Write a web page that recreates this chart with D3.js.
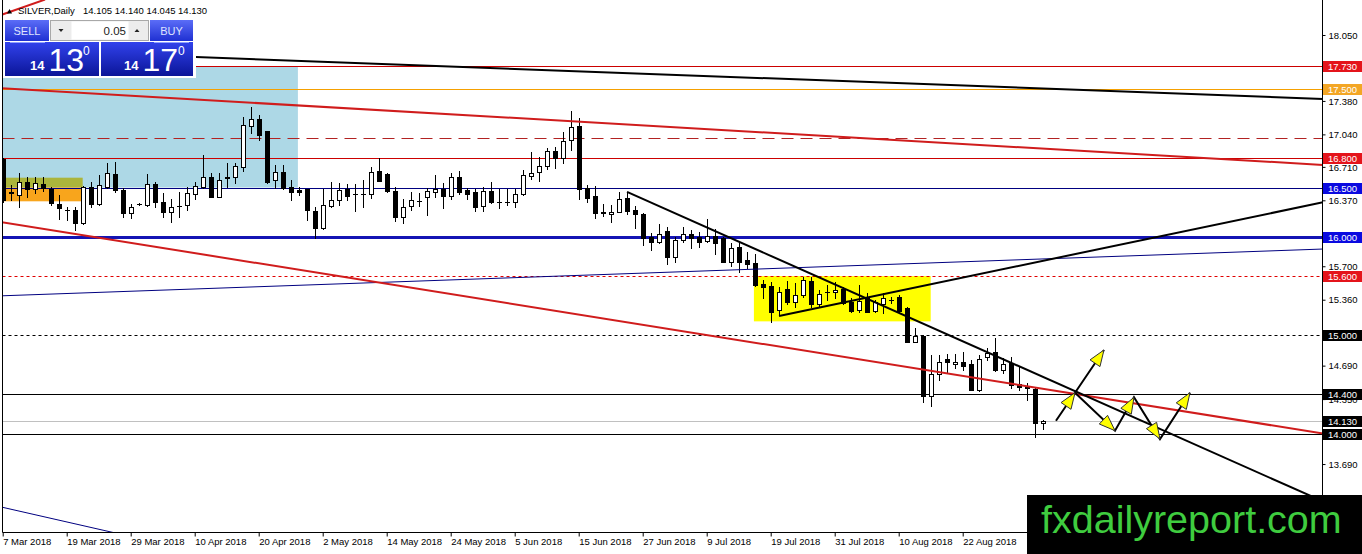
<!DOCTYPE html>
<html><head><meta charset="utf-8">
<script src="https://cdn.jsdelivr.net/npm/d3@7"></script>
<style>
html,body{margin:0;padding:0;background:#fff;overflow:hidden}
svg{display:block}
</style>
</head><body>
<svg id="chart" width="1362" height="554"></svg>
<script>
// ---------------- DATA ----------------
const quoteName = "SILVER,Daily";
const quoteOHLC = ["14.105", "14.140", "14.045", "14.130"];
const sellPrice = ["14", "13", "0"];
const buyPrice = ["14", "17", "0"];
const lotSize = "0.05";

const dateLabels = ["7 Mar 2018","19 Mar 2018","29 Mar 2018","10 Apr 2018","20 Apr 2018","2 May 2018","14 May 2018","24 May 2018","5 Jun 2018","15 Jun 2018","27 Jun 2018","9 Jul 2018","19 Jul 2018","31 Jul 2018","10 Aug 2018","22 Aug 2018"];
const dateBars = [0,8,16,24,32,40,48,56,64,72,80,88,96,104,112,120];

const opens = [16.79,16.45,16.42,16.56,16.49,16.54,16.49,16.33,16.27,16.27,16.14,16.51,16.33,16.51,16.64,16.47,16.24,16.33,16.32,16.54,
16.35,16.25,16.31,16.32,16.43,16.51,16.61,16.40,16.60,16.61,16.71,17.13,17.20,17.07,16.58,16.66,16.51,16.47,16.48,16.26,
16.09,16.31,16.37,16.48,16.43,16.43,16.43,16.67,16.64,16.46,16.20,16.31,16.36,16.40,16.45,16.49,16.41,16.61,16.47,16.45,
16.31,16.46,16.35,16.35,16.35,16.43,16.62,16.66,16.72,16.87,16.80,16.98,17.13,16.50,16.41,16.25,16.23,16.25,16.39,16.27,
16.23,16.00,15.95,16.06,15.79,15.97,16.03,16.00,15.96,16.01,15.99,15.74,15.90,15.76,15.73,15.52,15.50,15.26,15.47,15.34,
15.41,15.55,15.32,15.44,15.44,15.47,15.34,15.26,15.39,15.25,15.32,15.36,15.39,15.28,14.93,14.99,14.38,14.60,14.76,14.71,
14.73,14.71,14.44,14.78,14.83,14.65,14.72,14.50,14.47,14.45,14.105];
const highs = [16.80,16.53,16.65,16.61,16.61,16.61,16.51,16.42,16.30,16.30,16.52,16.56,16.63,16.75,16.76,16.50,16.33,16.34,16.64,16.56,
16.44,16.38,16.45,16.51,16.56,16.83,16.65,16.65,16.75,16.75,17.22,17.32,17.24,17.07,16.73,16.73,16.58,16.51,16.49,16.30,
16.49,16.56,16.55,16.54,16.54,16.58,16.71,16.80,16.65,16.51,16.38,16.45,16.44,16.50,16.63,16.55,16.65,16.67,16.50,16.48,
16.51,16.56,16.48,16.49,16.49,16.68,16.86,16.81,16.90,16.91,17.06,17.28,17.21,16.53,16.52,16.33,16.32,16.45,16.45,16.31,
16.24,16.04,16.13,16.10,16.00,16.10,16.07,16.05,16.18,16.08,16.00,15.94,15.94,15.84,15.82,15.56,15.54,15.49,15.55,15.53,
15.59,15.59,15.46,15.51,15.54,15.49,15.38,15.51,15.43,15.36,15.43,15.39,15.41,15.29,15.07,15.00,14.80,14.80,14.81,14.81,
14.83,14.75,14.80,14.87,14.97,14.77,14.78,14.68,14.51,14.46,14.14];
const lows = [16.35,16.37,16.30,16.40,16.44,16.46,16.32,16.18,16.17,16.07,16.13,16.30,16.32,16.50,16.45,16.20,16.19,16.32,16.31,16.30,
16.20,16.15,16.20,16.27,16.38,16.50,16.40,16.40,16.51,16.55,16.67,17.05,16.98,16.55,16.50,16.49,16.37,16.42,16.17,15.99,
16.08,16.30,16.32,16.37,16.26,16.30,16.39,16.57,16.45,16.16,16.14,16.27,16.31,16.22,16.40,16.29,16.38,16.43,16.38,16.26,
16.26,16.34,16.29,16.32,16.30,16.42,16.59,16.57,16.69,16.70,16.75,16.88,16.38,16.35,16.19,16.21,16.15,16.25,16.23,16.09,
15.92,15.87,15.94,15.72,15.74,15.95,15.89,15.90,15.95,15.82,15.74,15.70,15.64,15.68,15.50,15.38,15.13,15.20,15.32,15.29,
15.39,15.29,15.29,15.36,15.38,15.32,15.24,15.24,15.24,15.24,15.22,15.33,15.24,14.93,14.93,14.32,14.28,14.54,14.63,14.67,
14.65,14.44,14.43,14.75,14.64,14.62,14.46,14.44,14.34,13.96,14.045];
const closes = [16.37,16.44,16.56,16.49,16.55,16.50,16.34,16.29,16.27,16.14,16.51,16.33,16.53,16.65,16.47,16.24,16.30,16.33,16.54,16.35,
16.25,16.30,16.31,16.44,16.52,16.61,16.40,16.58,16.61,16.72,17.14,17.20,17.03,16.56,16.66,16.50,16.45,16.45,16.27,16.09,
16.32,16.37,16.47,16.41,16.43,16.43,16.66,16.57,16.46,16.20,16.30,16.37,16.36,16.46,16.49,16.41,16.61,16.45,16.43,16.30,
16.46,16.35,16.35,16.35,16.43,16.63,16.65,16.72,16.87,16.80,16.97,17.12,16.49,16.39,16.24,16.24,16.25,16.38,16.26,16.23,
15.99,15.95,16.03,15.79,15.97,16.03,15.99,15.95,16.01,15.94,15.74,15.89,15.74,15.72,15.51,15.49,15.24,15.44,15.34,15.41,
15.56,15.32,15.42,15.44,15.46,15.33,15.25,15.35,15.24,15.34,15.38,15.36,15.25,14.93,14.99,14.38,14.61,14.73,14.73,14.73,
14.69,14.44,14.76,14.82,14.65,14.71,14.49,14.47,14.46,14.11,14.13];

// visible price-axis ticks (the others sit under the coloured level tags)
const priceTicks = [18.05,17.38,17.04,16.71,16.37,15.70,15.36,14.69,14.35,13.69,13.35];

// horizontal price levels and the ones that get a coloured tag on the axis
const levelPrices = [17.73,17.50,17.00,16.80,16.50,16.00,15.60,15.00,14.40,14.13,14.00];
const levelTags   = ["17.730","17.500","","16.800","16.500","16.000","15.600","15.000","14.400","14.130","14.000"];

// trend lines: [bar index, price] anchors
const lineBlackTop  = [[-0.44,17.90],[164.94,17.40]];
const lineRedTop    = [[-0.44,17.51],[164.94,16.73]];
const lineRedCorner = [[-0.44,18.25],[5.19,18.41]];
const lineBlackDown = [[77.94,16.455],[164.94,13.31]];
const lineBlackUp   = [[96.94,15.195],[164.94,16.35]];
const lineNavyUp    = [[-0.06,15.40],[164.94,15.875]];
const lineRedLong   = [[-0.44,16.15],[164.94,14.00]];
const lineNavyLow   = [[-0.10,13.25],[13.94,12.99]];

// projected zig-zag arrows
const arrowLegA = [[131.56,14.130],[133.94,14.415],[137.56,14.849]];
const arrowLegB = [[133.94,14.415],[138.94,14.029],[141.31,14.368],[144.56,13.944],[148.31,14.415]];

// zones: [[barFrom, priceTop],[barTo, priceBottom]]
const zoneBlue   = [[-5,17.73],[36.8,16.50]];
const zoneOlive  = [[-5,16.60],[9.9,16.50]];
const zoneOrange = [[-5,16.50],[9.9,16.36]];
const zoneYellow = [[93.8,15.60],[115.9,15.14]];

const siteName = "fxdailyreport.com";

// ---------------- DRAW ----------------
const FONT = "'Liberation Sans', Arial, sans-serif";
const svg = d3.select("#chart");
const W = 1362, H = 554;
const plotL = 2.5, plotR = 1322.5, plotB = 532.5;

const x = d3.scaleLinear().domain([0,130]).range([3.5,1043.5]);
const y = d3.scaleLinear().domain([13.35,18.05]).range([497.5,35]);

const defs = svg.append("defs");
defs.append("clipPath").attr("id","plotclip").append("rect")
  .attr("x",plotL).attr("y",0).attr("width",plotR-plotL).attr("height",plotB);

function grad(id, top, bot){
  const g = defs.append("linearGradient").attr("id",id).attr("x1",0).attr("y1",0).attr("x2",0).attr("y2",1);
  g.append("stop").attr("offset","0%").attr("stop-color",top);
  g.append("stop").attr("offset","100%").attr("stop-color",bot);
}
grad("gBtn","#5b6df7","#1f30d2");
grad("gPrice","#3142ec","#0b1598");

const plot = svg.append("g").attr("clip-path","url(#plotclip)");

// zones
function zone(z, fill){
  plot.append("rect")
    .attr("x", x(z[0][0])).attr("y", y(z[0][1]))
    .attr("width", x(z[1][0]) - x(z[0][0]))
    .attr("height", y(z[1][1]) - y(z[0][1]))
    .attr("fill", fill);
}
zone(zoneBlue, "#add8e6");
zone(zoneOlive, "#abb53c");
zone(zoneOrange, "#f8a51c");
zone(zoneYellow, "#ffff00");

// horizontal levels
const levelStyle = [
  {c:"#cc0000", w:1, d:null},
  {c:"#f5a000", w:1, d:null},
  {c:"#b22222", w:1, d:"12,7"},
  {c:"#cc0000", w:1, d:null},
  {c:"#000080", w:1, d:null},
  {c:"#1414b4", w:3, d:null},
  {c:"#e00000", w:1, d:"3,3"},
  {c:"#000000", w:1, d:"3,3"},
  {c:"#000000", w:1, d:null},
  {c:"#c0c0c0", w:1, d:null},
  {c:"#000000", w:1, d:null}
];
levelPrices.forEach((p,i)=>{
  const yy = Math.round(y(p)) + (levelStyle[i].w % 2 ? 0.5 : 0);
  plot.append("line").attr("x1",plotL).attr("x2",plotR).attr("y1",yy).attr("y2",yy)
    .attr("stroke",levelStyle[i].c).attr("stroke-width",levelStyle[i].w)
    .attr("stroke-dasharray",levelStyle[i].d);
});

// candles
const candles = plot.append("g").attr("shape-rendering","crispEdges");
opens.forEach((o,i)=>{
  const h = highs[i], l = lows[i], c = closes[i];
  const cx = x(i);
  const yh = Math.round(y(h)), yl = Math.round(y(l));
  const yt = Math.round(y(Math.max(o,c))), yb = Math.round(y(Math.min(o,c)));
  candles.append("line").attr("x1",cx).attr("x2",cx).attr("y1",yh).attr("y2",yl+1)
    .attr("stroke","#000").attr("stroke-width",1);
  if (yb - yt < 1) {
    candles.append("line").attr("x1",cx-2.5).attr("x2",cx+2.5).attr("y1",yt+0.5).attr("y2",yt+0.5)
      .attr("stroke","#000").attr("stroke-width",1);
  } else if (c < o) {
    candles.append("rect").attr("x",cx-2.5).attr("y",yt).attr("width",5).attr("height",yb-yt+1)
      .attr("fill","#000");
  } else {
    candles.append("rect").attr("x",cx-2).attr("y",yt+0.5).attr("width",4).attr("height",yb-yt)
      .attr("fill","#fff").attr("stroke","#000").attr("stroke-width",1);
  }
});

// trend lines
const lineGen = d3.line().x(d=>x(d[0])).y(d=>y(d[1]));
function trend(pts, color, w){
  plot.append("path").attr("d",lineGen(pts)).attr("fill","none")
    .attr("stroke",color).attr("stroke-width",w);
}
trend(lineNavyUp, "#000080", 1);
trend(lineNavyLow, "#000080", 1);
trend(lineBlackTop, "#000", 2);
trend(lineRedTop, "#d01c1c", 2);
trend(lineRedCorner, "#d01c1c", 2);
trend(lineRedLong, "#d01c1c", 2);
trend(lineBlackDown, "#000", 2);
trend(lineBlackUp, "#000", 2);

// arrows
const arrows = plot.append("g");
function arrowLeg(pts){
  arrows.append("path").attr("d",lineGen(pts)).attr("fill","none")
    .attr("stroke","#000").attr("stroke-width",2).attr("stroke-linejoin","miter");
}
function head(p, q){
  const P=[x(p[0]),y(p[1])], Q=[x(q[0]),y(q[1])];
  const dx=Q[0]-P[0], dy=Q[1]-P[1], len=Math.hypot(dx,dy), ux=dx/len, uy=dy/len;
  const L=16, Wd=6;
  const bx=Q[0]-ux*L, by=Q[1]-uy*L;
  const pts=[[Q[0],Q[1]],[bx-uy*Wd,by+ux*Wd],[bx+uy*Wd,by-ux*Wd]];
  arrows.append("polygon").attr("points",pts.map(d=>d.join(",")).join(" "))
    .attr("fill","#ffff00").attr("stroke","#333").attr("stroke-width",1);
}
arrowLeg(arrowLegA); arrowLeg(arrowLegB);
for (let i=1;i<arrowLegA.length;i++) head(arrowLegA[i-1],arrowLegA[i]);
for (let i=1;i<arrowLegB.length;i++) head(arrowLegB[i-1],arrowLegB[i]);

// frame
svg.append("line").attr("x1",plotL).attr("x2",plotL).attr("y1",0).attr("y2",plotB).attr("stroke","#000");
svg.append("line").attr("x1",plotR).attr("x2",plotR).attr("y1",0).attr("y2",plotB).attr("stroke","#000");
svg.append("line").attr("x1",plotL).attr("x2",plotR).attr("y1",plotB).attr("y2",plotB).attr("stroke","#000");

// price axis
const yAxis = d3.axisRight(y).tickValues(priceTicks).tickFormat(d3.format(".3f")).tickSize(3).tickPadding(3).tickSizeOuter(0);
const ya = svg.append("g").attr("transform",`translate(${plotR},0)`).call(yAxis);
ya.select(".domain").remove();
ya.selectAll(".tick line").attr("stroke","#000");
ya.selectAll(".tick text").attr("font-family",FONT).attr("font-size","9.5px").attr("fill","#000").attr("dy","0.34em");

// date axis
const xAxis = d3.axisBottom(x).tickValues(dateBars).tickFormat((d,i)=>dateLabels[i]).tickSize(4).tickSizeOuter(0);
const xa = svg.append("g").attr("transform",`translate(-0.8,${plotB})`).call(xAxis);
xa.select(".domain").remove();
xa.selectAll(".tick line").attr("stroke","#000");
xa.selectAll(".tick text").attr("font-family",FONT).attr("font-size","9.5px").attr("fill","#000")
  .attr("text-anchor","start").attr("x",0).attr("y",6).attr("dy","0.71em");

// level tags
const tagBg = ["#e4141b","#f3a625","","#e4141b","#0a0ae0","#0a0ae0","#e4141b","#000","#000","#000","#000"];
const tags = svg.append("g");
levelPrices.forEach((p,i)=>{
  if(!levelTags[i]) return;
  const yy = Math.round(y(p));
  tags.append("rect").attr("x",plotR+0.5).attr("y",yy-5).attr("width",W-plotR).attr("height",11).attr("fill",tagBg[i]);
  tags.append("text").attr("x",plotR+5.5).attr("y",yy+4).attr("font-family",FONT).attr("font-size","9.5px")
    .attr("fill","#fff").text(levelTags[i]);
});

// header
const hdr = svg.append("g");
hdr.append("polygon").attr("points","7,13.5 12,13.5 9.5,9").attr("fill","#000");
hdr.append("text").attr("x",18).attr("y",14).attr("font-family",FONT).attr("font-size","9.5px").attr("fill","#000").text(quoteName);
hdr.append("text").attr("x",83).attr("y",14).attr("font-family",FONT).attr("font-size","9.5px").attr("fill","#000").text(quoteOHLC.join(" "));

// one-click trading panel
const pn = svg.append("g");
pn.append("rect").attr("x",3).attr("y",18).attr("width",193).attr("height",60).attr("fill","#fff");
pn.append("rect").attr("x",5).attr("y",20).attr("width",44).attr("height",21).attr("fill","url(#gBtn)");
pn.append("text").attr("x",27).attr("y",35).attr("text-anchor","middle").attr("font-family",FONT).attr("font-size","11px").attr("fill","#dfe4ff").text("SELL");
pn.append("rect").attr("x",150).attr("y",20).attr("width",43).attr("height",21).attr("fill","url(#gBtn)");
pn.append("text").attr("x",171.5).attr("y",35).attr("text-anchor","middle").attr("font-family",FONT).attr("font-size","11px").attr("fill","#dfe4ff").text("BUY");
// spin box
pn.append("rect").attr("x",50.5).attr("y",20.5).attr("width",98).attr("height",20).attr("fill","#ececec").attr("stroke","#a8a8a8");
pn.append("rect").attr("x",71.5).attr("y",21.5).attr("width",57).attr("height",18).attr("fill","#fff");
pn.append("polygon").attr("points","58.5,29 63.5,29 61,32").attr("fill","#222");
pn.append("polygon").attr("points","134.5,32 139.5,32 137,29").attr("fill","#222");
pn.append("text").attr("x",126).attr("y",35).attr("text-anchor","end").attr("font-family",FONT).attr("font-size","11.5px").attr("fill","#222").text(lotSize);
// price boxes
pn.append("rect").attr("x",5).attr("y",42).attr("width",94).attr("height",34).attr("fill","url(#gPrice)");
pn.append("rect").attr("x",101).attr("y",42).attr("width",92).attr("height",34).attr("fill","url(#gPrice)");
pn.append("line").attr("x1",10).attr("x2",45).attr("y1",42.5).attr("y2",42.5).attr("stroke","#8fa0ff");
pn.append("line").attr("x1",154).attr("x2",189).attr("y1",42.5).attr("y2",42.5).attr("stroke","#8fa0ff");
function priceText(parts, xs){
  pn.append("text").attr("x",xs[0]).attr("y",70).attr("font-family",FONT).attr("font-size","13px").attr("font-weight","bold").attr("fill","#fff").text(parts[0]);
  pn.append("text").attr("x",xs[1]).attr("y",71).attr("font-family",FONT).attr("font-size","32px").attr("fill","#fff").text(parts[1]);
  pn.append("text").attr("x",xs[2]).attr("y",55).attr("font-family",FONT).attr("font-size","12px").attr("fill","#fff").text(parts[2]);
}
priceText(sellPrice, [30,48.5,83]);
priceText(buyPrice, [124,142.5,178]);

// watermark
svg.append("rect").attr("x",1027).attr("y",495).attr("width",W-1027).attr("height",H-495).attr("fill","#000");
svg.append("text").attr("x",1041).attr("y",533).attr("font-family",FONT).attr("font-size","39.5px").attr("fill","#3fcc3f").text(siteName);
</script>
</body></html>
